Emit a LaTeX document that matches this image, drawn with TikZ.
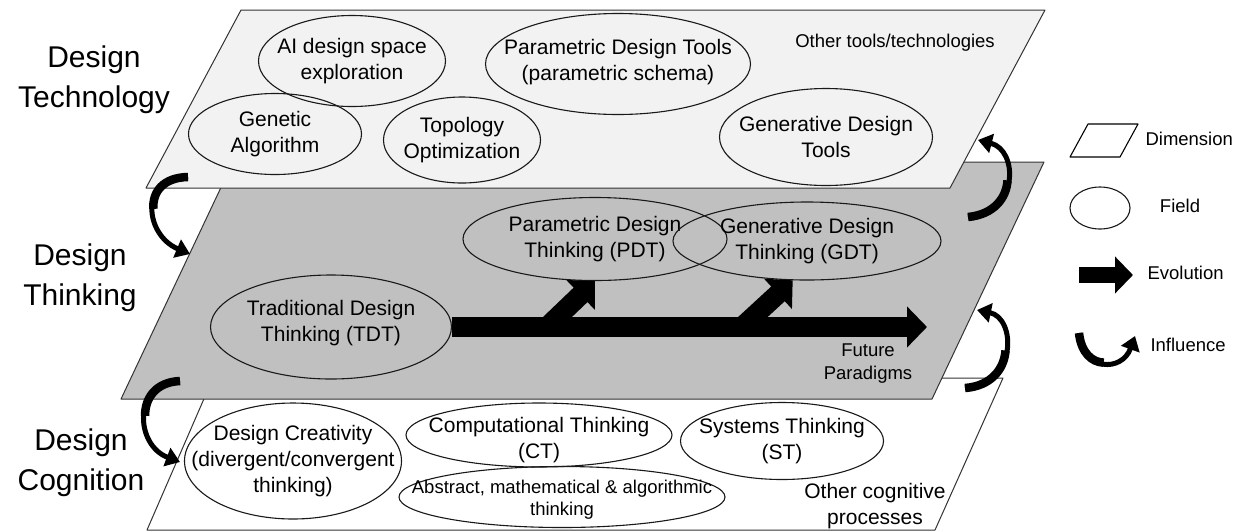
\documentclass[tikz,border=0pt]{standalone}
\usepackage{fontspec}
\setmainfont{Liberation Sans}
\usetikzlibrary{shapes.geometric,arrows.meta}
\definecolor{techgray}{HTML}{F2F2F2}
\definecolor{thinkgray}{HTML}{C0C0C0}
\begin{document}
\begin{tikzpicture}[x=1pt, y=-1pt, line join=round,
		plane/.style={draw=black!80, line width=1pt},
		field/.style={ellipse, draw=black!90, line width=1.1pt, inner sep=0pt},
		fieldtext/.style={align=center, font=\fontsize{21}{26}\selectfont},
		note/.style={align=center, font=\fontsize{18.5}{23}\selectfont},
		dimlabel/.style={align=center, font=\fontsize{30}{40}\selectfont},
		evolution/.style={line width=20pt, -{Triangle[length=20pt, width=40pt]}},
		influence/.style={line width=5pt, -{Triangle[length=14pt, width=19pt]}},
		influencebase/.style={line width=8.5pt}]
	\useasboundingbox (0,0) rectangle (1241,531);
	% Dimension names
	\foreach \name/\pos [count=\i] in {Technology/{(94,80)}, Thinking/{(80,278)}, Cognition/{(81,463)}}
		\node[dimlabel] (dim-\i) at \pos {Design\\\name};
	% Design Cognition layer
	\draw[plane, fill=white] (213,378) -- (1003,378) -- (935,530) -- (147,530) -- cycle;
	\node[field, minimum width=217, minimum height=116] (dc) at (293,461) {};
	\node[fieldtext] (dc-text) at (dc.center) {Design Creativity\\(divergent/convergent\\thinking)};
	\node[field, minimum width=266, minimum height=64] (ct) at (539,435) {};
	\node[fieldtext] (ct-text) at (539,440) {Computational Thinking\\(CT)};
	\node[field, minimum width=326, minimum height=61] (abs) at (562,497) {};
	\node[note, font=\fontsize{18.5}{22}\selectfont] (abs-text) at (562,500) {Abstract, mathematical \& algorithmic\\thinking};
	\node[field, minimum width=203, minimum height=77] (st) at (782,441) {};
	\node[fieldtext] (st-text) at (st.center) {Systems Thinking\\(ST)};
	\node[fieldtext] (other-cog) at (875,506) {Other cognitive\\processes};
	% Design Thinking layer
	\draw[plane, fill=thinkgray] (233,162) -- (1044,162) -- (932,399) -- (121,399) -- cycle;
	\node[field, minimum width=241, minimum height=104] (tdt) at (331,327) {};
	\node[fieldtext] (tdt-text) at (331,323) {Traditional Design\\Thinking (TDT)};
	\node[field, minimum width=264, minimum height=83] (pdt) at (595,239) {};
	\node[fieldtext] (pdt-text) at (pdt.center) {Parametric Design\\Thinking (PDT)};
	\node[field, minimum width=268, minimum height=78] (gdt) at (807,241) {};
	\node[fieldtext] (gdt-text) at (gdt.center) {Generative Design\\Thinking (GDT)};
	\node[note] (future-text) at (868,364) {Future\\Paradigms};
	% Evolution arrows
	\coordinate (future) at (927,327);
	\coordinate (fork-1) at (547,327);
	\coordinate (fork-2) at (742,327);
	\draw[evolution] (tdt.east) -- (future);
	\draw[evolution] (fork-1) -- (pdt.south);
	\draw[evolution] (fork-2) -- (gdt.250);
	% Design Technology layer
	\draw[plane, fill=techgray] (241,10) -- (1045,10) -- (950,188) -- (146,188) -- cycle;
	\node[field, minimum width=187, minimum height=91] (ai) at (352,61) {};
	\node[fieldtext] (ai-text) at (ai.center) {AI design space\\exploration};
	\node[field, minimum width=173, minimum height=81] (ga) at (275,134) {};
	\node[fieldtext] (ga-text) at (ga.center) {Genetic\\Algorithm};
	\node[field, minimum width=157, minimum height=86] (topo) at (462,140) {};
	\node[fieldtext] (topo-text) at (topo.center) {Topology\\Optimization};
	\node[field, minimum width=265, minimum height=101] (pdtools) at (618,64) {};
	\node[fieldtext] (pdtools-text) at (618,62) {Parametric Design Tools\\(parametric schema)};
	\node[field, minimum width=213, minimum height=97] (gdtools) at (826,137) {};
	\node[fieldtext] (gdtools-text) at (gdtools.center) {Generative Design\\Tools};
	\node[note] (other-tech) at (895,43) {Other tools/technologies};
	% Influence arrows (thick first half, then the full curve)
	\draw[influencebase] (188,177) .. controls (163,177.5) and (152.3,192) .. (153.4,208.8);
	\draw[influence] (188,177) .. controls (138,178) and (145,235) .. (190,254);
	\draw[influencebase] (180,381) .. controls (156,382) and (144.8,398) .. (145.1,415.9);
	\draw[influence] (180,381) .. controls (132,383) and (135,445) .. (180,462);
	\draw[influencebase] (968,217) .. controls (994,214.5) and (1006.5,197.8) .. (1007.5,180.4);
	\draw[influence] (968,217) .. controls (1020,212) and (1018,150) .. (978,140);
	\draw[influencebase] (965,388) .. controls (991.5,386) and (1004.3,368.5) .. (1005.5,350.5);
	\draw[influence] (965,388) .. controls (1018,384) and (1016,318) .. (977,310);
	% Legend
	\draw[line width=1.1pt] (1070,157) -- (1120,157) -- (1138,124) -- (1088,124) -- cycle;
	\node[note, anchor=west] (leg-dim) at (1142,139) {Dimension};
	\node[field, minimum width=60, minimum height=42] (leg-field) at (1100,208) {};
	\node[note] (leg-field-text) at (1180,206) {Field};
	\coordinate (leg-evo-a) at (1079,275);
	\coordinate (leg-evo-b) at (1133,275);
	\draw[line width=16pt, -{Triangle[length=18pt, width=36pt]}] (leg-evo-a) -- (leg-evo-b);
	\node[note, anchor=west] (leg-evo) at (1144,273) {Evolution};
	\coordinate (leg-inf-a) at (1079,333);
	\coordinate (leg-inf-b) at (1135,336);
	\draw[influencebase] (leg-inf-a) .. controls (1081,352.5) and (1091.8,362.3) .. (1103.6,362.6);
	\draw[influence] (leg-inf-a) .. controls (1083,372) and (1122,372) .. (leg-inf-b);
	\node[note, anchor=west] (leg-inf) at (1147,345) {Influence};
\end{tikzpicture}
\end{document}
